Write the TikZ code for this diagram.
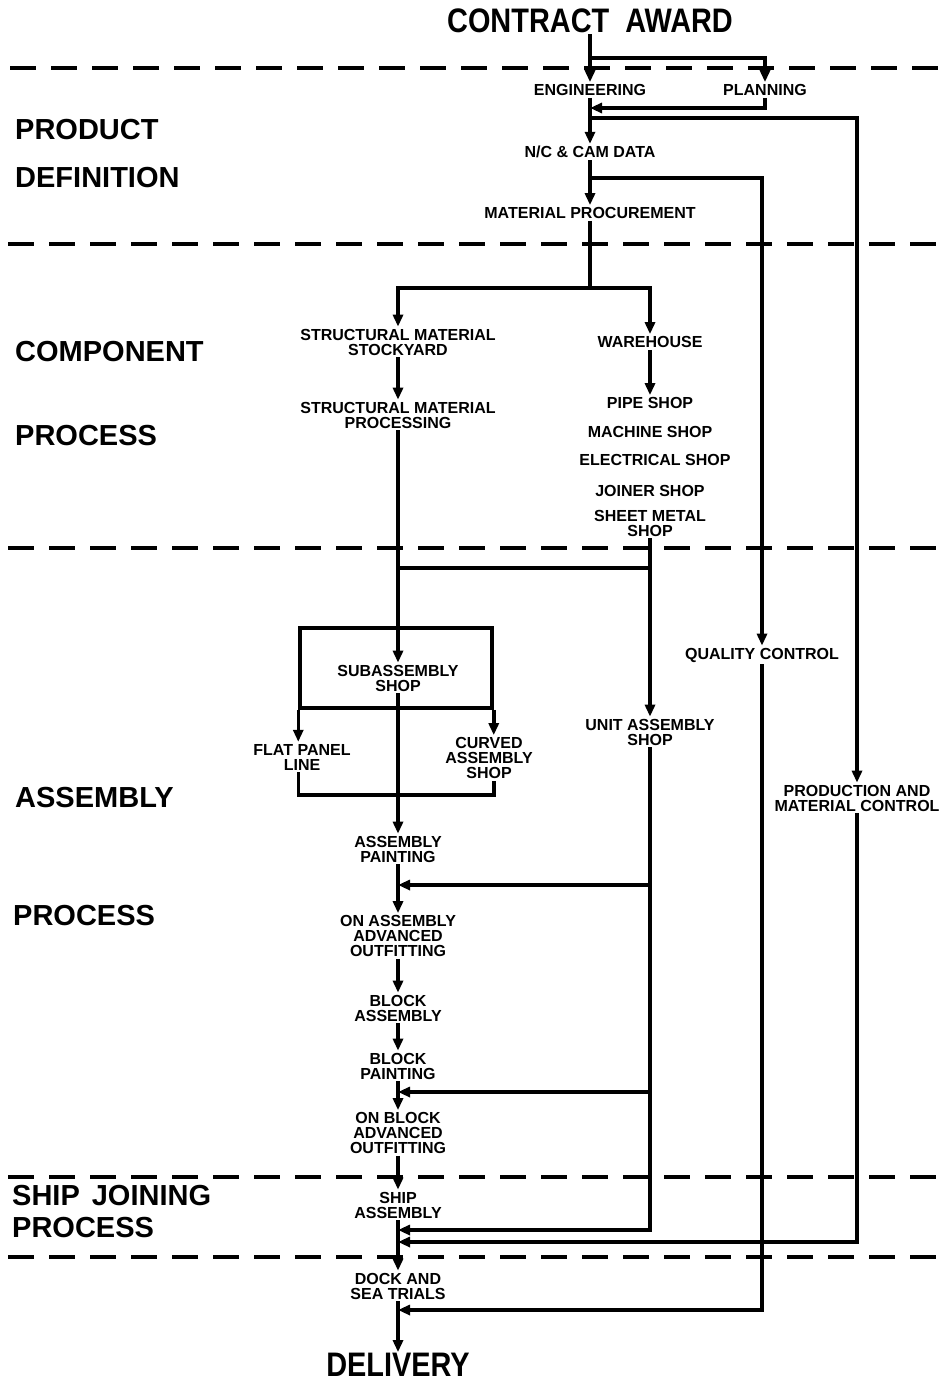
\documentclass[tikz,border=0pt]{standalone}
\usepackage{fontspec}
\setmainfont{Liberation Sans}
\newfontfamily\titlefont{Liberation Sans}[FakeStretch=0.85]
\usetikzlibrary{arrows.meta,calc}
\tikzset{
 ln/.style={line width=3.5pt},
 arr/.style={ln,-{Triangle[length=12pt,width=10pt]}},
 lbl/.style={font=\fontsize{16}{15}\selectfont\bfseries, align=center, inner sep=2pt},
 sec/.style={font=\fontsize{29}{30}\selectfont\bfseries, anchor=west, inner sep=0pt},
 ttl/.style={font=\titlefont\fontsize{34}{34}\selectfont\bfseries, inner sep=1pt},
 dline/.style={line width=4pt, dash pattern=on 26pt off 15pt},
}
\begin{document}
\begin{tikzpicture}[x=1pt,y=-1pt]
\useasboundingbox (0,0) rectangle (939,1382);
% dashed section separators
\draw[dline] (10,68) -- (939,68);
\draw[dline] (8,244) -- (939,244);
\draw[dline] (8,548) -- (939,548);
\draw[dline] (8,1177) -- (939,1177);
\draw[dline] (8,1257) -- (939,1257);
% section labels
\node[sec] (pd1) at (15,130) {PRODUCT};
\node[sec] (pd2) at (15,178) {DEFINITION};
\node[sec] (cp1) at (15,352) {COMPONENT};
\node[sec] (cp2) at (15,436) {PROCESS};
\node[sec] (as1) at (15,798) {ASSEMBLY};
\node[sec] (as2) at (13,916) {PROCESS};
\node[sec] (sj1) at (12,1196) {SHIP\hspace{12pt}JOINING};
\node[sec] (sj2) at (12,1228) {PROCESS};
% nodes
\node[ttl] (award) at (590,21) {CONTRACT\hspace{16pt}AWARD};
\node[lbl] (eng) at (590,90) {ENGINEERING};
\node[lbl] (plan) at (765,90) {PLANNING};
\node[lbl] (nc) at (590,152) {N/C \& CAM DATA};
\node[lbl] (mp) at (590,213) {MATERIAL PROCUREMENT};
\node[lbl] (sms) at (398,342) {STRUCTURAL MATERIAL\\STOCKYARD};
\node[lbl] (wh) at (650,342) {WAREHOUSE};
\node[lbl] (smp) at (398,415) {STRUCTURAL MATERIAL\\PROCESSING};
\node[lbl] (pipe) at (650,403) {PIPE SHOP};
\node[lbl] (mach) at (650,432) {MACHINE SHOP};
\node[lbl] (elec) at (655,460) {ELECTRICAL SHOP};
\node[lbl] (join) at (650,491) {JOINER SHOP};
\node[lbl] (sheet) at (650,523) {SHEET METAL\\SHOP};
\node[lbl] (qc) at (762,655) {QUALITY CONTROL};
\node[draw, line width=3.5pt, minimum width=192pt, minimum height=80pt, inner sep=0pt] (box) at (396,668) {};
\node[lbl] (sub) at (398,678) {SUBASSEMBLY\\SHOP};
\node[lbl] (flat) at (302,757) {FLAT PANEL\\LINE};
\node[lbl] (curv) at (489,758) {CURVED\\ASSEMBLY\\SHOP};
\node[lbl] (unit) at (650,732) {UNIT ASSEMBLY\\SHOP};
\node[lbl] (pmc) at (857,798) {PRODUCTION AND\\MATERIAL CONTROL};
\node[lbl] (ap) at (398,849) {ASSEMBLY\\PAINTING};
\node[lbl] (oaao) at (398,936) {ON ASSEMBLY\\ADVANCED\\OUTFITTING};
\node[lbl] (ba) at (398,1008) {BLOCK\\ASSEMBLY};
\node[lbl] (bp) at (398,1066) {BLOCK\\PAINTING};
\node[lbl] (oba) at (398,1133) {ON BLOCK\\ADVANCED\\OUTFITTING};
\node[lbl] (sa) at (398,1205) {SHIP\\ASSEMBLY};
\node[lbl] (dst) at (398,1286) {DOCK AND\\SEA TRIALS};
\node[ttl] (del) at (398,1365) {DELIVERY};
% junction coordinates
\coordinate (j1) at (590,58);
\coordinate (j2) at (590,108);
\coordinate (j3) at (590,118);
\coordinate (j4) at (590,178);
\coordinate (j5) at (590,288);
\coordinate (j6) at (398,568);
\coordinate (j7) at (650,568);
\coordinate (bb) at (396,795);
\coordinate (u1) at (650,885);
\coordinate (m1) at (398,885);
\coordinate (u2) at (650,1092);
\coordinate (m2) at (398,1092);
\coordinate (m3) at (398,1230);
\coordinate (m4) at (398,1242);
\coordinate (m5) at (398,1310);
% connectors
\draw[arr] (award.south) -- (eng.north);
\draw[arr] (j1) -| (plan.north);
\draw[arr] (plan.south) |- (j2);
\draw[arr] (j3) -| (pmc.north);
\draw[arr] (eng.south) -- (nc.north);
\draw[arr] (j4) -| (qc.north);
\draw[arr] (nc.south) -- (mp.north);
\draw[ln] (mp.south) -- (j5);
\draw[arr] (j5) -| (sms.north);
\draw[arr] (j5) -| (wh.north);
\draw[arr] (sms.south) -- (smp.north);
\draw[arr] (wh.south) -- (pipe.north);
\draw[arr] (smp.south) -- (sub.north);
\draw[ln] (j6) -- (j7);
\draw[arr] (sheet.south) -- (unit.north);
\draw[arr] (box.south west) -- (box.south west |- flat.north);
\draw[arr] (box.south east) -- (box.south east |- curv.north);
\draw[ln] (box.south west |- flat.south) -- (box.south west |- bb) -- (box.south east |- bb) -- (box.south east |- curv.south);
\draw[arr] (sub.south) -- (ap.north);
\draw[arr] (ap.south) -- (oaao.north);
\draw[arr] (oaao.south) -- (ba.north);
\draw[arr] (ba.south) -- (bp.north);
\draw[arr] (bp.south) -- (oba.north);
\draw[arr] (oba.south) -- (sa.north);
\draw[arr] (sa.south) -- (dst.north);
\draw[arr] (dst.south) -- (del.north);
\draw[arr] (unit.south) |- (m3);
\draw[arr] (u1) -- (m1);
\draw[arr] (u2) -- (m2);
\draw[arr] (pmc.south) |- (m4);
\draw[arr] (qc.south) |- (m5);
\end{tikzpicture}
\end{document}
